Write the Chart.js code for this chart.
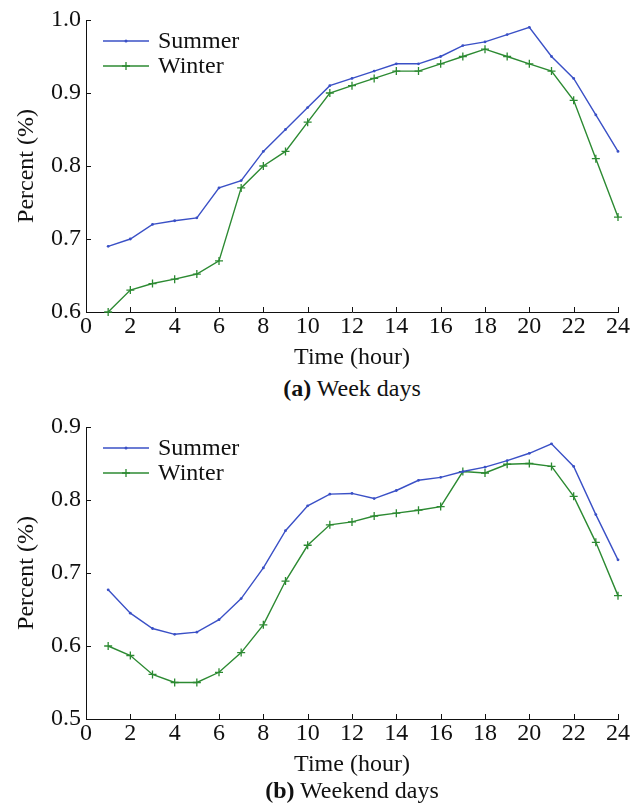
<!DOCTYPE html>
<html>
<head>
<meta charset="utf-8">
<script src="https://cdn.jsdelivr.net/npm/chart.js@4/dist/chart.umd.min.js"></script>
<style>
  html, body { margin: 0; padding: 0; background: #fff; }
  #wrap { position: relative; width: 642px; height: 811px; overflow: hidden; font-family: "Liberation Serif", "Times New Roman", serif; }
  .cv { position: absolute; left: 0; width: 642px; height: 372px; }
  .cap { position: absolute; left: 86px; width: 532px; text-align: center; font-size: 24px; color: #111; line-height: 28px; }
</style>
</head>
<body>
<div id="wrap">
  <div class="cv" style="top:0px"><canvas id="c1" width="642" height="372"></canvas></div>
  <div class="cv" style="top:407px"><canvas id="c2" width="642" height="372"></canvas></div>
  <div class="cap" style="top:374px"><b>(a)</b> Week days</div>
  <div class="cap" style="top:776px"><b>(b)</b> Weekend days</div>
</div>
<script>
const hours = [1,2,3,4,5,6,7,8,9,10,11,12,13,14,15,16,17,18,19,20,21,22,23,24];
const seriesNames = ["Summer", "Winter"];
const xTicks = [0,2,4,6,8,10,12,14,16,18,20,22,24];

const weekdaySummer = [0.690,0.700,0.720,0.725,0.729,0.770,0.780,0.820,0.850,0.880,0.910,0.920,0.930,0.940,0.940,0.950,0.965,0.970,0.980,0.990,0.950,0.920,0.870,0.820];
const weekdayWinter = [0.600,0.630,0.639,0.645,0.652,0.670,0.770,0.800,0.820,0.860,0.900,0.910,0.920,0.930,0.930,0.940,0.950,0.960,0.950,0.940,0.930,0.890,0.810,0.730];
const weekdayYTicks = [0.6,0.7,0.8,0.9,1.0];

const weekendSummer = [0.677,0.645,0.624,0.616,0.619,0.636,0.665,0.707,0.758,0.792,0.808,0.809,0.802,0.813,0.827,0.831,0.839,0.845,0.854,0.864,0.877,0.846,0.780,0.718];
const weekendWinter = [0.600,0.587,0.561,0.550,0.550,0.564,0.591,0.629,0.689,0.738,0.766,0.770,0.778,0.782,0.786,0.791,0.839,0.837,0.849,0.850,0.846,0.805,0.742,0.669];
const weekendYTicks = [0.5,0.6,0.7,0.8,0.9];

const BLUE = "#3a50c6";
const GREEN = "#2c8a32";
const FONT = "'Liberation Serif', 'Times New Roman', serif";

const inTicks = {
  id: "inTicks",
  afterDraw(chart) {
    const ctx = chart.ctx;
    const xs = chart.scales.x, ys = chart.scales.y;
    const a = chart.chartArea;
    ctx.save();
    ctx.strokeStyle = "#111";
    ctx.lineWidth = 1;
    ctx.beginPath();
    xs.ticks.forEach(t => {
      const px = Math.round(xs.getPixelForValue(t.value)) + 0.5;
      ctx.moveTo(px, a.bottom);
      ctx.lineTo(px, a.bottom - 5);
    });
    ys.ticks.forEach(t => {
      const py = Math.round(ys.getPixelForValue(t.value)) + 0.5;
      ctx.moveTo(a.left, py);
      ctx.lineTo(a.left + 5, py);
    });
    ctx.stroke();
    // legend
    const lx0 = a.left + 17, lx1 = a.left + 63, tx = a.left + 72;
    const rows = [a.top + 21, a.top + 46];
    chart.data.datasets.forEach((ds, i) => {
      const y = rows[i];
      ctx.strokeStyle = ds.borderColor;
      ctx.lineWidth = 1.5;
      ctx.beginPath();
      ctx.moveTo(lx0, y); ctx.lineTo(lx1, y);
      ctx.stroke();
      const mx = (lx0 + lx1) / 2;
      if (ds.pointStyle === "cross") {
        ctx.lineWidth = 1.3;
        ctx.beginPath();
        ctx.moveTo(mx - 4, y); ctx.lineTo(mx + 4, y);
        ctx.moveTo(mx, y - 4); ctx.lineTo(mx, y + 4);
        ctx.stroke();
      } else {
        ctx.fillStyle = ds.borderColor;
        ctx.beginPath();
        ctx.arc(mx, y, 1.5, 0, Math.PI * 2);
        ctx.fill();
      }
      ctx.fillStyle = "#111";
      ctx.font = "24px " + FONT;
      ctx.textBaseline = "middle";
      ctx.textAlign = "left";
      ctx.fillText(ds.label, tx, y + 1);
    });
    ctx.restore();
  }
};

function makeChart(id, summer, winter, yTicks) {
  new Chart(document.getElementById(id), {
    type: "line",
    data: {
      datasets: [
        { label: seriesNames[0], data: hours.map((h, i) => ({x: h, y: summer[i]})),
          borderColor: BLUE, backgroundColor: BLUE, borderWidth: 1.4, clip: false,
          pointStyle: "circle", pointRadius: 1.4, pointBorderWidth: 0, pointBackgroundColor: BLUE, tension: 0 },
        { label: seriesNames[1], data: hours.map((h, i) => ({x: h, y: winter[i]})),
          borderColor: GREEN, backgroundColor: GREEN, borderWidth: 1.4, clip: false,
          pointStyle: "cross", pointRadius: 4, pointBorderWidth: 1.3, pointBorderColor: GREEN, tension: 0 }
      ]
    },
    options: {
      responsive: false,
      animation: false,
      devicePixelRatio: 1,
      layout: { padding: { left: 0, right: 24, top: 20, bottom: 0 } },
      plugins: { legend: { display: false }, tooltip: { enabled: false } },
      scales: {
        x: {
          type: "linear", min: xTicks[0], max: xTicks[xTicks.length - 1],
          afterBuildTicks: s => { s.ticks = xTicks.map(v => ({value: v})); },
          afterFit: s => { s.height = 60; },
          grid: { display: false, drawTicks: false },
          border: { display: true, color: "#111", width: 1 },
          ticks: { color: "#111", font: { family: FONT, size: 24 }, padding: 0, maxRotation: 0, autoSkip: false },
          title: { display: true, text: "Time (hour)", color: "#111", font: { family: FONT, size: 24 }, padding: { top: 0, bottom: 0 } }
        },
        y: {
          type: "linear", min: yTicks[0], max: yTicks[yTicks.length - 1],
          afterBuildTicks: s => { s.ticks = yTicks.map(v => ({value: v})); },
          afterFit: s => { s.width = 86; },
          grid: { display: false, drawTicks: false },
          border: { display: true, color: "#111", width: 1 },
          ticks: { color: "#111", font: { family: FONT, size: 24 }, padding: 5, callback: v => v.toFixed(1) },
          title: { display: true, text: "Percent (%)", color: "#111", font: { family: FONT, size: 24 }, padding: { top: 12, bottom: 0 } }
        }
      }
    },
    plugins: [inTicks]
  });
}

makeChart("c1", weekdaySummer, weekdayWinter, weekdayYTicks);
makeChart("c2", weekendSummer, weekendWinter, weekendYTicks);
</script>
</body>
</html>
